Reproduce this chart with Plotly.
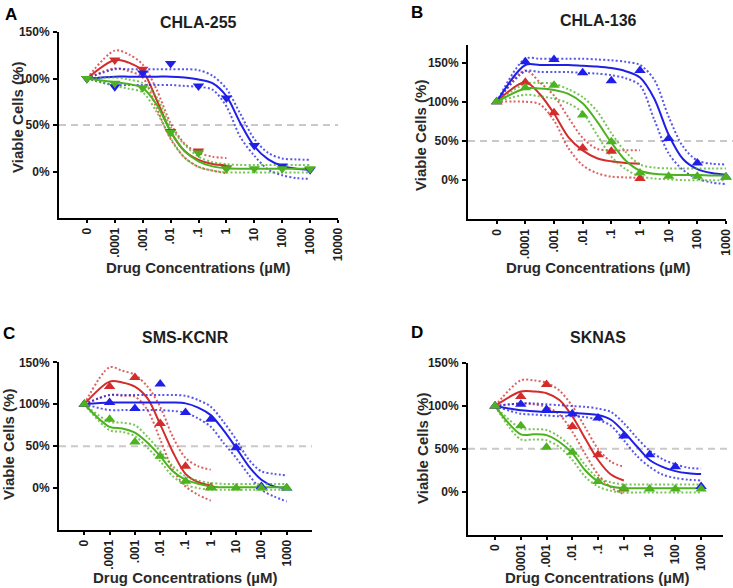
import plotly.graph_objects as go

W, H = 733, 588

# ---------------- data ----------------
X_FIT = [0, 1, 1.5, 2, 2.5, 3, 3.5, 4, 4.5, 5, 5.5, 6, 6.5, 7, 7.5, 8]
X_PTS = [0, 1, 2, 3, 4, 5, 6, 7, 8]
X_TICKS_LONG = ["0", ".0001", ".001", ".01", ".1", "1", "10", "100", "1000", "10000"]
X_TICKS = ["0", ".0001", ".001", ".01", ".1", "1", "10", "100", "1000"]
Y_TICK_VALS = [0, 50, 100, 150]
Y_TICK_TEXT = ["0%", "50%", "100%", "150%"]

# Panel A: CHLA-255
A_red_pts = [100, 120, 110, 43, 22, 4]
A_red_fit = [100, 120, 117, 108, 77, 43, 22, 12.5, 8, 6.5]
A_red_hi = [100, 130, 126, 115, 88, 52, 30, 20, 16, 14.5]
A_red_lo = [100, 111, 108, 101, 68, 35, 15, 5, 1, -2]
A_blue_pts = [100, 91, 106, 116, 92, 79, 28, 6, 2]
A_blue_fit = [100, 102, 102, 102, 102, 102, 101, 99, 95, 81, 52, 27, 13, 6, 3, 2]
A_blue_hi = [100, 110, 110, 110, 110, 110, 110, 109, 103, 89, 62, 35, 20, 14, 13, 12.5]
A_blue_lo = [100, 93, 93, 93, 93, 93, 92, 91, 88, 70, 37, 17, 2, -4, -7, -8]
A_green_pts = [100, 95, 90, 42, 20, 3, 3, 3, 3]
A_green_fit = [100, 96, 94, 90, 72, 43, 22, 11, 5.5, 3.5, 3, 3, 3, 3, 3, 3]
A_green_hi = [100, 101, 99, 95, 80, 48, 29, 16, 10, 8, 7, 7, 7, 7, 7, 7]
A_green_lo = [100, 92, 89, 85, 64, 36, 15, 5, 1, -1, -1, -1, -1, -1, -1, -1]

# Panel B: CHLA-136
B_red_pts = [100, 125, 86, 41, 37, 2]
B_red_fit = [100, 125, 110, 85, 55, 38, 28, 24, 22, 21]
B_red_hi = [100, 140, 125, 108, 80, 54, 40, 38, 38, 38]
B_red_lo = [100, 100, 97, 76, 41, 19, 9, 4.5, 3.5, 3]
B_blue_pts = [100, 151, 154, 137, 127, 140, 53, 22, 4]
B_blue_fit = [100, 147, 147, 147, 147, 146, 145, 143, 139, 131, 104, 58, 27, 14, 9, 7]
B_blue_hi = [100, 155, 155, 155, 155, 155, 154, 153, 151, 147, 128, 81, 43, 25, 21, 20]
B_blue_lo = [100, 139, 138, 138, 138, 137, 136, 134, 130, 121, 77, 34, 13, 2, -3, -5]
B_green_pts = [100, 118, 121, 83, 49, 9, 5, 5, 4]
B_green_fit = [100, 117, 117, 115, 110, 98, 75, 48, 25, 12, 8, 7, 6.5, 6.5, 6, 6]
B_green_hi = [100, 123, 124, 123, 116, 106, 88, 60, 36, 20, 16, 15, 15, 15, 15, 15]
B_green_lo = [100, 109, 107, 104, 98, 86, 58, 30, 14, 5, 2, 1, 0, 0, 0, 0]

# Panel C: SMS-KCNR
C_red_pts = [100, 121, 132, 77, 26, 1]
C_red_fit = [100, 127, 126, 121, 107, 76, 43, 17, 7, 3]
C_red_hi = [100, 144, 140, 135, 121, 97, 61, 36, 26, 22]
C_red_lo = [100, 111, 110, 109, 93, 58, 22, 2, -8, -15]
C_blue_pts = [100, 102, 95, 124, 90, 82, 48, 2, 0]
C_blue_fit = [100, 102, 102, 102, 102, 102, 102, 101, 96, 87, 69, 48, 26, 10, 2, 0]
C_blue_hi = [100, 111, 111, 111, 111, 111, 111, 110, 105, 97, 79, 58, 34, 20, 17, 15]
C_blue_lo = [100, 93, 93, 93, 93, 93, 92, 90, 83, 73, 54, 36, 16, -2, -10, -16]
C_green_pts = [100, 82, 55, 38, 8, 0, 0, 0, 0]
C_green_fit = [100, 73, 71, 66, 54, 38, 20, 10, 5, 2, 1, 1, 1, 1, 1, 1]
C_green_hi = [100, 79, 78, 75, 61, 44, 26, 14, 9, 6, 5, 5, 5, 5, 5, 5]
C_green_lo = [100, 69, 67, 62, 48, 32, 14, 4, 0, -2, -2, -2, -2, -2, -2, -2]

# Panel D: SKNAS
D_red_pts = [100, 111, 125, 76, 43, 3]
D_red_fit = [100, 117, 117, 115, 107, 88, 62, 37, 20, 13]
D_red_hi = [100, 130, 130, 127, 118, 100, 75, 50, 35, 29]
D_red_lo = [100, 103, 102, 99, 90, 70, 44, 20, 5, -3]
D_blue_pts = [100, 102, 96, 91, 86, 65, 43, 29, 6]
D_blue_fit = [100, 95, 94, 93, 93, 92, 91, 89.5, 84, 70, 53, 37, 29, 24, 21.5, 20.5]
D_blue_hi = [100, 103, 103, 102, 101, 100, 99, 97, 93, 80, 63, 48, 38, 32, 28, 27]
D_blue_lo = [100, 91, 90, 89, 88, 88, 87, 84, 77, 60, 42, 29, 20, 16, 14, 13]
D_green_pts = [100, 77, 52, 46, 12, 4, 3, 3, 3]
D_green_fit = [100, 67, 67, 66, 58, 45, 25, 12, 6, 4, 4, 4, 4, 4, 4, 4]
D_green_hi = [100, 74, 73, 72, 64, 51, 31, 16, 11, 8.5, 8.5, 8.5, 8.5, 8.5, 8.5, 8.5]
D_green_lo = [100, 61, 61, 60, 52, 37, 17.5, 6, 1, -1, -1, -1, -1, -1, -1, -1]

TITLES = ["CHLA-255", "CHLA-136", "SMS-KCNR", "SKNAS"]
LETTERS = ["A", "B", "C", "D"]
X_TITLE = "Drug Concentrations (µM)"
Y_TITLE = "Viable Cells (%)"

# ---------------- style ----------------
RED = "#d42b2b"
BLUE = "#1f1fe8"
GREEN = "#4cb21f"
FONT = "Liberation Sans, Arial, Helvetica, sans-serif"
TXT = "#1e1e1e"

panels = [
    dict(sfx="", xd=(59, 338), yd=(32, 218), xr=[-1, 9], yr=[-50, 150],
         ticks=X_TICKS_LONG, sym="triangle-down",
         series=[(RED, A_red_fit, A_red_hi, A_red_lo, A_red_pts),
                 (BLUE, A_blue_fit, A_blue_hi, A_blue_lo, A_blue_pts),
                 (GREEN, A_green_fit, A_green_hi, A_green_lo, A_green_pts)],
         title_xy=(198, 23), letter_xy=(11, 14), xt_xy=(198, 267), yt_xy=(17, 118), dash_end=1.0),
    dict(sfx="2", xd=(468, 726), yd=(45, 219.3), xr=[-1, 8.001], yr=[-50, 172.5],
         ticks=X_TICKS, sym="triangle-up",
         series=[(RED, B_red_fit, B_red_hi, B_red_lo, B_red_pts),
                 (BLUE, B_blue_fit, B_blue_hi, B_blue_lo, B_blue_pts),
                 (GREEN, B_green_fit, B_green_hi, B_green_lo, B_green_pts)],
         title_xy=(598, 20), letter_xy=(417, 13), xt_xy=(598, 267), yt_xy=(420, 136), dash_end=1.03),
    dict(sfx="3", xd=(59, 312), yd=(362.3, 530), xr=[-1, 9], yr=[-50, 150],
         ticks=X_TICKS, sym="triangle-up",
         series=[(RED, C_red_fit, C_red_hi, C_red_lo, C_red_pts),
                 (BLUE, C_blue_fit, C_blue_hi, C_blue_lo, C_blue_pts),
                 (GREEN, C_green_fit, C_green_hi, C_green_lo, C_green_pts)],
         title_xy=(185, 337), letter_xy=(9, 333), xt_xy=(185, 577), yt_xy=(8, 445), dash_end=1.0),
    dict(sfx="4", xd=(468, 723), yd=(363.2, 534.5), xr=[-1.05, 8.85], yr=[-50, 150],
         ticks=X_TICKS, sym="triangle-up",
         series=[(RED, D_red_fit, D_red_hi, D_red_lo, D_red_pts),
                 (BLUE, D_blue_fit, D_blue_hi, D_blue_lo, D_blue_pts),
                 (GREEN, D_green_fit, D_green_hi, D_green_lo, D_green_pts)],
         title_xy=(598, 337), letter_xy=(417, 332), xt_xy=(597, 577), yt_xy=(422, 449), dash_end=1.02),
]


def pxx(v):
    return v / W


def pxy(v):
    return 1 - v / H


fig = go.Figure()
annotations = []
shapes = []
layout_axes = {}

for i, p in enumerate(panels):
    xa = "x" + p["sfx"]
    ya = "y" + p["sfx"]
    for col, fit, hi, lo, pts in p["series"]:
        n = len(fit)
        for band in (hi, lo):
            fig.add_trace(go.Scatter(
                x=X_FIT[:n], y=band, mode="lines", xaxis=xa, yaxis=ya,
                line=dict(color=col, width=2, dash="2px,2.2px", shape="spline", smoothing=0.9),
                opacity=0.75, hoverinfo="skip", showlegend=False))
        fig.add_trace(go.Scatter(
            x=X_FIT[:n], y=fit, mode="lines", xaxis=xa, yaxis=ya,
            line=dict(color=col, width=2, shape="spline", smoothing=0.9),
            hoverinfo="skip", showlegend=False))
    for col, fit, hi, lo, pts in p["series"]:
        fig.add_trace(go.Scatter(
            x=X_PTS[:len(pts)], y=pts, mode="markers", xaxis=xa, yaxis=ya,
            marker=dict(symbol=p["sym"], size=10, color=col, line=dict(width=0)),
            cliponaxis=False, hoverinfo="skip", showlegend=False))

    xkey = "xaxis" + p["sfx"]
    ykey = "yaxis" + p["sfx"]
    layout_axes[xkey] = dict(
        domain=[pxx(p["xd"][0]), pxx(p["xd"][1])], range=p["xr"], anchor=ya,
        tickmode="array", tickvals=list(range(len(p["ticks"]))), ticktext=p["ticks"],
        tickangle=-90, showline=True, linecolor="black", linewidth=2,
        ticks="outside", ticklen=3, tickwidth=1.5, tickcolor="black",
        showgrid=False, zeroline=False, automargin=False, ticklabeloverflow="allow",
        tickfont=dict(family=FONT, size=12, color=TXT, weight="bold"))
    layout_axes[ykey] = dict(
        domain=[pxy(p["yd"][1]), pxy(p["yd"][0])], range=p["yr"], anchor=xa,
        tickmode="array", tickvals=Y_TICK_VALS, ticktext=Y_TICK_TEXT,
        showline=True, linecolor="black", linewidth=2,
        ticks="outside", ticklen=4, tickwidth=1.5, tickcolor="black",
        showgrid=False, zeroline=False, ticklabelstandoff=1, automargin=False,
        tickfont=dict(family=FONT, size=12, color=TXT, weight="bold"))

    shapes.append(dict(type="line", xref=xa + " domain", yref=ya, x0=0, x1=p["dash_end"],
                       y0=50, y1=50, line=dict(color="#c9c9c9", width=2, dash="7px,5px"),
                       layer="below"))

    annotations.append(dict(x=pxx(p["title_xy"][0]), y=pxy(p["title_xy"][1]), xref="paper", yref="paper",
                            text=TITLES[i], showarrow=False, xanchor="center", yanchor="middle",
                            font=dict(family=FONT, size=16, color=TXT, weight="bold")))
    annotations.append(dict(x=pxx(p["letter_xy"][0]), y=pxy(p["letter_xy"][1]), xref="paper", yref="paper",
                            text=LETTERS[i], showarrow=False, xanchor="center", yanchor="middle",
                            font=dict(family=FONT, size=17, color="black", weight="bold")))
    annotations.append(dict(x=pxx(p["xt_xy"][0]), y=pxy(p["xt_xy"][1]), xref="paper", yref="paper",
                            text=X_TITLE, showarrow=False, xanchor="center", yanchor="middle",
                            font=dict(family=FONT, size=15, color="#2a2a2a", weight="bold")))
    annotations.append(dict(x=pxx(p["yt_xy"][0]), y=pxy(p["yt_xy"][1]), xref="paper", yref="paper",
                            text=Y_TITLE, showarrow=False, xanchor="center", yanchor="middle",
                            textangle=-90,
                            font=dict(family=FONT, size=15, color="#2a2a2a", weight="bold")))

fig.update_layout(
    width=W, height=H, margin=dict(l=0, r=0, t=0, b=0, pad=0, autoexpand=False),
    paper_bgcolor="white", plot_bgcolor="white",
    showlegend=False, annotations=annotations, shapes=shapes,
    **layout_axes)

fig.write_html("out.html", config={"displayModeBar": False},
               post_script="document.body.style.margin='0';document.body.style.overflow='hidden';")
